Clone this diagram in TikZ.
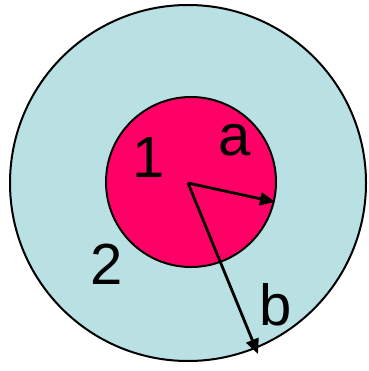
\documentclass[tikz,border=0pt]{standalone}
\usepackage{fontspec}
\setmainfont{Liberation Sans}
\usetikzlibrary{arrows.meta}
\definecolor{outerc}{RGB}{185,224,227}
\definecolor{innerc}{RGB}{255,0,102}
\begin{document}
\begin{tikzpicture}[x=1pt,y=-1pt,
  lbl/.style={font=\fontsize{58}{58}\selectfont, inner sep=0pt, text=black},
  radius arrow/.style={line width=2.8pt, -{Triangle[length=15pt,width=13pt]}}]
\useasboundingbox[fill=white] (0,0) rectangle (368,371);
\draw[fill=outerc, line width=2pt] (188,183) circle[radius=178];
\draw[fill=innerc, line width=2pt] (191,182) circle[radius=85];
\coordinate (o) at (188,183);
\coordinate (ea) at (275,202);
\coordinate (eb) at (258,354);
\draw[radius arrow] (o) -- (ea);
\draw[radius arrow] (o) -- (eb);
\node[lbl] (n1) at (149,158) {1};
\node[lbl] (na) at (235,140) {a};
\node[lbl] (n2) at (107,264) {2};
\node[lbl] (nb) at (276,305) {b};
\end{tikzpicture}
\end{document}
